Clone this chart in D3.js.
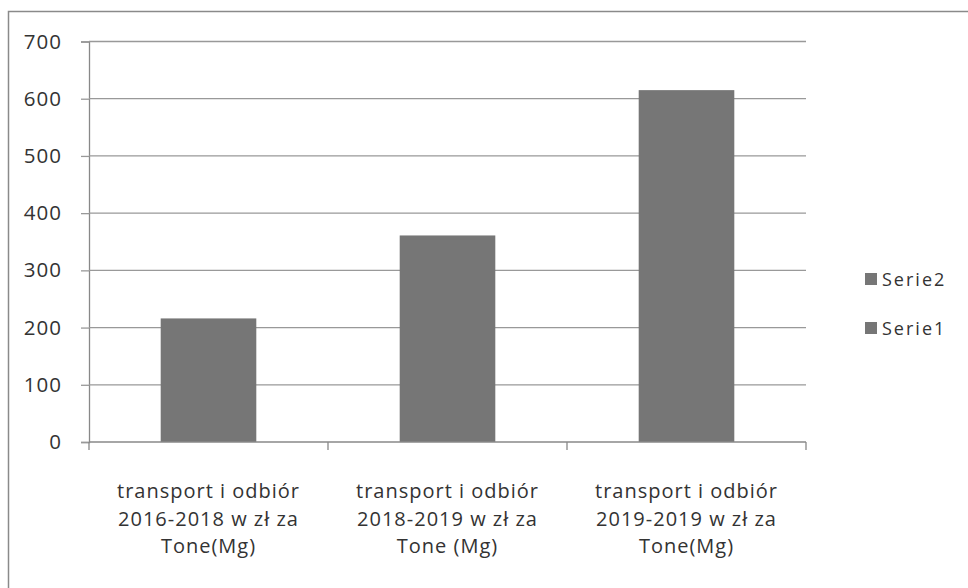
<!DOCTYPE html>
<html>
<head>
<meta charset="utf-8">
<script src="https://cdn.jsdelivr.net/npm/d3@7"></script>
<style>
    body { margin: 0; background: #fff; }
    svg text { font-family: "Open Sans", sans-serif; fill: #333; }
</style>
</head>
<body>
<div id="chart"></div>
<script>
    // chart data
    var categories = [
        ["transport i odbiór", "2016-2018 w zł za", "Tone(Mg)"],
        ["transport  i odbiór", "2018-2019 w zł za", "Tone (Mg)"],
        ["transport i odbiór", "2019-2019 w zł za", "Tone(Mg)"]
    ];
    var values = [216, 361, 615];
    var yTicks = [0, 100, 200, 300, 400, 500, 600, 700];
    var legendNames = ["Serie2", "Serie1"];

    var width = 968;
    var height = 588;
    var margin = { left: 89, right: 162, top: 41.5, bottom: 146 };
    var barColor = "#767676";

    var svg = d3.select("#chart").append("svg")
        .attr("width", width).attr("height", height);

    // outer frame
    svg.append("rect")
        .attr("x", 8.5).attr("y", 11.5)
        .attr("width", width + 10).attr("height", height + 10)
        .attr("fill", "none").attr("stroke", "#8a8a8a").attr("stroke-width", 1.5);

    var x = d3.scaleBand()
        .domain(d3.range(categories.length))
        .range([margin.left, width - margin.right])
        .paddingInner(0.6).paddingOuter(0.3);

    var y = d3.scaleLinear()
        .domain([0, 700])
        .range([height - margin.bottom, margin.top]);

    // gridlines + y axis
    var yAxis = svg.append("g")
        .attr("transform", "translate(" + margin.left + ",0)")
        .call(d3.axisLeft(y).tickValues(yTicks).tickSize(8).tickPadding(19).tickFormat(d3.format("d")));
    yAxis.select(".domain").attr("stroke", "#888").attr("stroke-width", 1.3);
    yAxis.selectAll(".tick line").attr("stroke", "#999").attr("stroke-width", 1.3);
    yAxis.selectAll(".tick text").attr("font-size", 20.5).attr("fill", "#333")
        .attr("font-family", "'Open Sans', sans-serif").style("letter-spacing", "1px");

    svg.append("g").selectAll("line.grid")
        .data(yTicks.filter(function (d) { return d > 0; }))
        .enter().append("line")
        .attr("x1", margin.left).attr("x2", width - margin.right)
        .attr("y1", function (d) { return y(d); }).attr("y2", function (d) { return y(d); })
        .attr("stroke", "#999").attr("stroke-width", 1.3);

    // bars
    svg.append("g").selectAll("rect")
        .data(values)
        .enter().append("rect")
        .attr("x", function (d, i) { return x(i); })
        .attr("width", x.bandwidth())
        .attr("y", function (d) { return y(d); })
        .attr("height", function (d) { return y(0) - y(d); })
        .attr("fill", barColor);

    // x axis with category ticks at band boundaries
    var boundaries = d3.range(categories.length + 1).map(function (i) {
        return margin.left + i * (width - margin.right - margin.left) / categories.length;
    });
    svg.append("line")
        .attr("x1", margin.left).attr("x2", width - margin.right)
        .attr("y1", y(0)).attr("y2", y(0))
        .attr("stroke", "#888").attr("stroke-width", 1.3);
    svg.append("g").selectAll("line")
        .data(boundaries)
        .enter().append("line")
        .attr("x1", function (d) { return d; }).attr("x2", function (d) { return d; })
        .attr("y1", y(0)).attr("y2", y(0) + 8)
        .attr("stroke", "#888").attr("stroke-width", 1.3);

    var labels = svg.append("g").selectAll("text")
        .data(categories)
        .enter().append("text")
        .attr("text-anchor", "middle")
        .attr("font-size", 20)
        .style("letter-spacing", "1px")
        .attr("x", function (d, i) { return x(i) + x.bandwidth() / 2; })
        .attr("y", 498);
    labels.selectAll("tspan")
        .data(function (d) { return d; })
        .enter().append("tspan")
        .attr("x", function () { return d3.select(this.parentNode).attr("x"); })
        .attr("dy", function (d, i) { return i === 0 ? 0 : 27.5; })
        .text(function (d) { return d; });

    // legend
    var legend = svg.append("g").selectAll("g")
        .data(legendNames)
        .enter().append("g")
        .attr("transform", function (d, i) { return "translate(865," + (279 + i * 49) + ")"; });
    legend.append("rect")
        .attr("x", 0).attr("y", -6).attr("width", 12).attr("height", 12)
        .attr("fill", barColor);
    legend.append("text")
        .attr("x", 17).attr("y", 7)
        .attr("font-size", 18)
        .style("letter-spacing", "2px")
        .text(function (d) { return d; });
</script>
</body>
</html>
